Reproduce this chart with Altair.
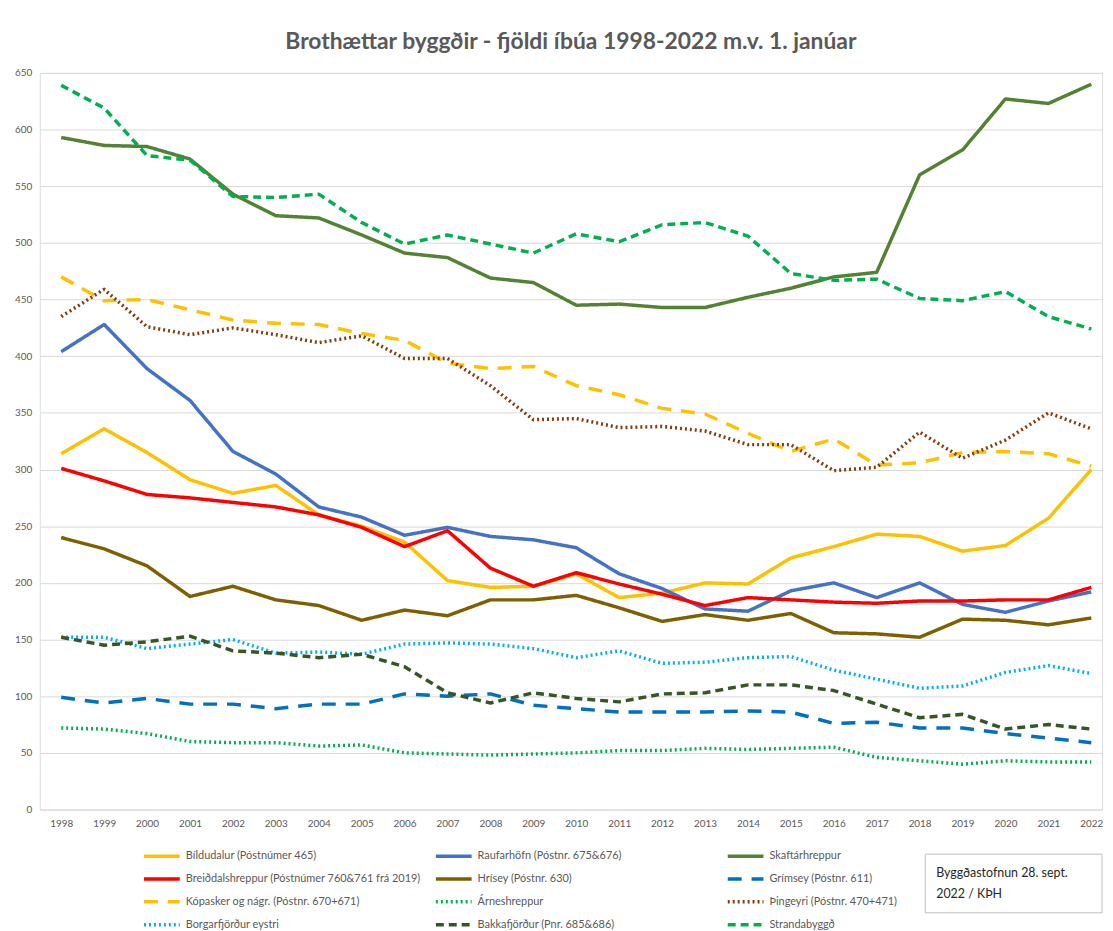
import altair as alt
import pandas as pd

years = list(range(1998, 2023))

bildudalur = [314, 336, 315, 291, 279, 286, 260, 250, 236, 202, 196, 197, 208, 187, 191, 200, 199, 222, 232, 243, 241, 228, 233, 257, 300]
raufarhofn = [404, 428, 389, 361, 316, 296, 267, 258, 242, 249, 241, 238, 231, 208, 195, 177, 175, 193, 200, 187, 200, 181, 174, 184, 192]
skaftarhreppur = [593, 586, 585, 574, 543, 524, 522, 507, 491, 487, 469, 465, 445, 446, 443, 443, 452, 460, 470, 474, 560, 582, 627, 623, 640]
breiddalshreppur = [301, 290, 278, 275, 271, 267, 260, 249, 232, 246, 213, 197, 209, 199, 190, 180, 187, 185, 183, 182, 184, 184, 185, 185, 196]
hrisey = [240, 230, 215, 188, 197, 185, 180, 167, 176, 171, 185, 185, 189, 178, 166, 172, 167, 173, 156, 155, 152, 168, 167, 163, 169]
grimsey = [99, 94, 98, 93, 93, 89, 93, 93, 102, 100, 102, 92, 89, 86, 86, 86, 87, 86, 76, 77, 72, 72, 67, 63, 59]
kopasker = [470, 449, 450, 441, 432, 429, 428, 420, 414, 394, 389, 391, 374, 366, 354, 349, 332, 316, 327, 304, 306, 315, 316, 314, 303]
arneshreppur = [72, 71, 67, 60, 59, 59, 56, 57, 50, 49, 48, 49, 50, 52, 52, 54, 53, 54, 55, 46, 43, 40, 43, 42, 42]
thingeyri = [435, 459, 426, 419, 425, 419, 412, 418, 398, 398, 374, 344, 345, 337, 338, 334, 322, 322, 299, 302, 333, 310, 326, 350, 336]
borgarfjordur = [152, 152, 142, 146, 150, 138, 139, 137, 146, 147, 146, 142, 134, 140, 129, 130, 134, 135, 123, 115, 107, 109, 121, 127, 120]
bakkafjordur = [152, 145, 148, 153, 140, 138, 134, 137, 126, 103, 94, 103, 98, 95, 102, 103, 110, 110, 105, 93, 81, 84, 71, 75, 71]
strandabyggd = [639, 619, 577, 573, 541, 540, 543, 518, 499, 507, 499, 491, 508, 501, 516, 518, 506, 473, 467, 468, 451, 449, 457, 435, 424]

series_names = [
    "Bíldudalur (Póstnúmer 465)",
    "Raufarhöfn (Póstnr. 675&676)",
    "Skaftárhreppur",
    "Breiðdalshreppur (Póstnúmer 760&761 frá 2019)",
    "Hrísey (Póstnr. 630)",
    "Grímsey (Póstnr. 611)",
    "Kópasker og nágr. (Póstnr. 670+671)",
    "Árneshreppur",
    "Þingeyri (Póstnr. 470+471)",
    "Borgarfjörður eystri",
    "Bakkafjörður (Pnr. 685&686)",
    "Strandabyggð",
]
series_values = [bildudalur, raufarhofn, skaftarhreppur, breiddalshreppur, hrisey, grimsey,
                 kopasker, arneshreppur, thingeyri, borgarfjordur, bakkafjordur, strandabyggd]

colors = ["#FFC000", "#4472C4", "#548235", "#FF0000", "#7F6000", "#0070C0",
          "#FFC000", "#00B050", "#843C0C", "#00B0F0", "#375623", "#00B050"]
dashes = [[1, 0], [1, 0], [1, 0], [1, 0], [1, 0], [14, 10],
          [14, 10], [2, 3], [2, 3], [2, 3], [8, 5], [8, 5]]
widths = [3.5, 3.5, 3.5, 3.5, 3.5, 4.5, 4.5, 2.5, 2.5, 2.5, 3, 3]

rows = []
for name, vals in zip(series_names, series_values):
    for yr, v in zip(years, vals):
        rows.append({"ár": yr, "íbúar": v, "byggð": name})
df = pd.DataFrame(rows)

W, H = 1070, 742
FONT = "Lato"

legend = alt.Legend(
    orient="none", legendX=103, legendY=782, columns=3, direction="horizontal", title=None,
    symbolType="stroke", symbolSize=1296, labelOffset=4, padding=0,
    labelFont=FONT, labelFontSize=11, labelColor="#595959", labelLimit=400,
    gridAlign="all", columnPadding=12, rowPadding=9, clipHeight=14,
)

lines = alt.Chart(df).mark_line(strokeJoin="round").encode(
    x=alt.X("ár:Q",
            scale=alt.Scale(domain=[1997.5, 2022.25], nice=False, zero=False),
            axis=alt.Axis(values=years, format="d", title=None, grid=False, domain=False,
                          ticks=False, labelPadding=9, labelFont=FONT, labelFontSize=10,
                          labelColor="#595959")),
    y=alt.Y("íbúar:Q",
            scale=alt.Scale(domain=[0, 650], nice=False),
            axis=alt.Axis(values=list(range(0, 651, 50)), title=None, domain=False, ticks=False,
                          gridColor="#D9D9D9", gridWidth=1, labelPadding=8, labelFont=FONT,
                          labelFontSize=10, labelColor="#595959")),
    color=alt.Color("byggð:N", scale=alt.Scale(domain=series_names, range=colors), legend=legend),
    strokeDash=alt.StrokeDash("byggð:N", scale=alt.Scale(domain=series_names, range=dashes), legend=legend),
    strokeWidth=alt.StrokeWidth("byggð:N", scale=alt.Scale(domain=series_names, range=widths), legend=legend),
)

box = alt.Chart(pd.DataFrame({"k": [0]})).mark_rect(
    fill="white", stroke="#BFBFBF", strokeWidth=1
).encode(x=alt.value(892), x2=alt.value(1070), y=alt.value(787), y2=alt.value(846))

note = alt.Chart(pd.DataFrame({"t": ["Byggðastofnun 28. sept.\n2022 / KÞH"]})).mark_text(
    align="left", baseline="alphabetic", lineBreak="\n", lineHeight=21,
    font=FONT, fontSize=12.5, color="#262626"
).encode(x=alt.value(903), y=alt.value(810), text="t:N")

chart = alt.layer(lines, box, note).properties(
    width=W, height=H,
    padding={"left": 32, "top": 62, "right": 3, "bottom": 121},
    autosize=alt.AutoSizeParams(type="none"),
    title=alt.TitleParams(
        "Brothættar byggðir - fjöldi íbúa 1998-2022 m.v. 1. janúar",
        font=FONT, fontSize=23, fontWeight="bold", color="#595959",
        anchor="middle", offset=14,
    ),
).configure_view(stroke=None).configure(background="white")

chart.save("out.html", embed_options={"renderer": "svg", "actions": False})
